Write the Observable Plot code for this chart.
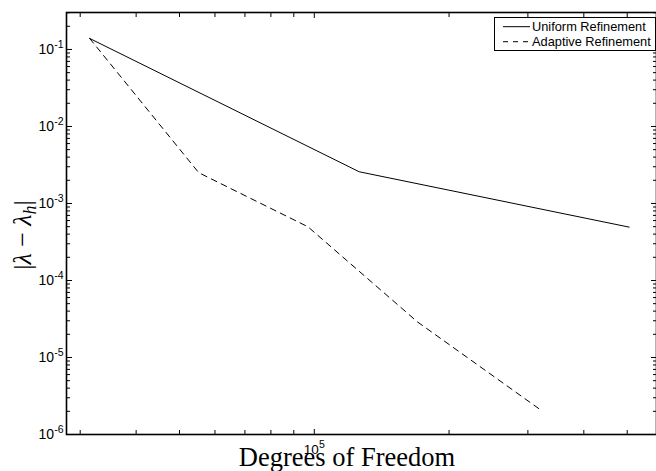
<!DOCTYPE html>
<html><head><meta charset="utf-8">
<script src="https://cdn.jsdelivr.net/npm/d3@7"></script>
<script src="https://cdn.jsdelivr.net/npm/@observablehq/plot@0.6"></script>
<style>
body{margin:0;background:#fff;}
#chart svg{display:block;}
</style></head><body><div id="chart"></div>
<script>
// ---- data ----
const uniformDOF = [31500, 126000, 505000];
const uniformErr = [0.139, 0.00258, 0.000493];
const adaptiveDOF = [31500, 55200, 96800, 170000, 318000];
const adaptiveErr = [0.139, 0.00251, 0.000498, 0.000029, 0.00000215];
const seriesNames = ["Uniform Refinement", "Adaptive Refinement"];
const yMajorTicks = [1e-6, 1e-5, 1e-4, 1e-3, 1e-2, 1e-1];
const xLabelTicks = [1e5];
const xTitle = "Degrees of Freedom";

const xDomain = [27960, 581300];
const yDomain = [1e-6, 0.302];

const uniform = uniformDOF.map((x, i) => ({x, y: uniformErr[i]}));
const adaptive = adaptiveDOF.map((x, i) => ({x, y: adaptiveErr[i]}));

// log minor ticks inside the domains
function minorTicks([lo, hi]) {
  const out = [];
  for (let e = Math.floor(Math.log10(lo)); e <= Math.ceil(Math.log10(hi)); e++) {
    for (let m = 2; m <= 9; m++) {
      const v = m * Math.pow(10, e);
      if (v >= lo && v <= hi) out.push(v);
    }
  }
  return out;
}
const yMinor = minorTicks(yDomain);
const xMinor = minorTicks(xDomain);
const expFmt = d => `10^${Math.round(Math.log10(d))}`;
const none = () => "";

// inward ticks: outward-pointing ticks shifted inward by their own length
const inY = (ticks, anchor, len) => Plot.axisY(ticks, {anchor, tickSize: len, dx: anchor === "left" ? len : -len, tickFormat: none, label: null});
const inX = (ticks, anchor, len) => Plot.axisX(ticks, {anchor, tickSize: len, dy: anchor === "bottom" ? -len : len, tickFormat: none, label: null});

const svg = Plot.plot({
  width: 656, height: 471,
  marginLeft: 66, marginRight: 0, marginTop: 12, marginBottom: 37,
  x: {type: "log", domain: xDomain},
  y: {type: "log", domain: yDomain},
  style: {fontFamily: "'Liberation Sans', Arial, sans-serif", background: "white", color: "black"},
  marks: [
    Plot.line(uniform, {x: "x", y: "y", stroke: "#000", strokeWidth: 1}),
    Plot.line(adaptive, {x: "x", y: "y", stroke: "#000", strokeWidth: 1, strokeDasharray: "6,5"}),
    inY(yMajorTicks, "left", 6),
    inY(yMinor, "left", 4),
    inY(yMajorTicks, "right", 6),
    inY(yMinor, "right", 4),
    inX(xLabelTicks, "bottom", 5),
    inX(xMinor, "bottom", 4),
    inX(xLabelTicks, "top", 5),
    inX(xMinor, "top", 4),
    Plot.axisY(yMajorTicks, {anchor: "left", tickSize: 0, tickPadding: 3, tickFormat: expFmt, fontSize: 14, label: null}),
    Plot.axisX(xLabelTicks, {anchor: "bottom", tickSize: 0, tickPadding: 10, tickFormat: expFmt, fontSize: 13.5, label: null}),
    Plot.frame({stroke: "#000", strokeWidth: 1.6})
  ]
});

const s = d3.select(svg);
// superscript exponents on tick labels
s.selectAll("text").each(function () {
  const m = /^10\^(-?\d+)$/.exec(this.textContent);
  if (!m) return;
  const t = d3.select(this);
  t.text(null);
  t.append("tspan").text("10");
  t.append("tspan").attr("dy", -6).attr("font-size", 10.5).text(m[1]);
});

// axis titles (LaTeX-like serif)
s.append("text")
  .attr("x", 347).attr("y", 466)
  .attr("text-anchor", "middle")
  .attr("font-family", "'Liberation Serif', 'Times New Roman', serif")
  .attr("font-size", 26.5)
  .attr("fill", "#000")
  .text(xTitle);

const yl = s.append("text")
  .attr("transform", "translate(31,235) rotate(-90)")
  .attr("text-anchor", "middle")
  .attr("font-family", "'Liberation Serif', 'Times New Roman', serif")
  .attr("font-size", 26)
  .attr("fill", "#000");
yl.append("tspan").text("|");
yl.append("tspan").attr("font-style", "italic").text("λ");
yl.append("tspan").text(" − ");
yl.append("tspan").attr("font-style", "italic").text("λ");
yl.append("tspan").attr("font-style", "italic").attr("font-size", 18).attr("dy", 5).text("h");
yl.append("tspan").attr("dy", -5).text("|");

// legend
const lg = s.append("g")
  .attr("font-family", "'Liberation Sans', Arial, sans-serif")
  .attr("font-size", 12.8)
  .attr("text-anchor", "start");
lg.append("rect").attr("x", 494.5).attr("y", 17.5).attr("width", 161).attr("height", 33)
  .attr("fill", "#fff").attr("stroke", "#000").attr("stroke-width", 1);
const dashes = [null, "5,5"];
seriesNames.forEach((name, i) => {
  const cy = 26.7 + i * 15;
  lg.append("line").attr("x1", 503).attr("x2", 530).attr("y1", cy).attr("y2", cy)
    .attr("stroke", "#000").attr("stroke-width", 1).attr("stroke-dasharray", dashes[i]);
  lg.append("text").attr("x", 532).attr("y", cy + 4.5).attr("fill", "#000").attr("text-anchor", "start").text(name);
});

document.getElementById("chart").appendChild(svg);
</script>
</body></html>
